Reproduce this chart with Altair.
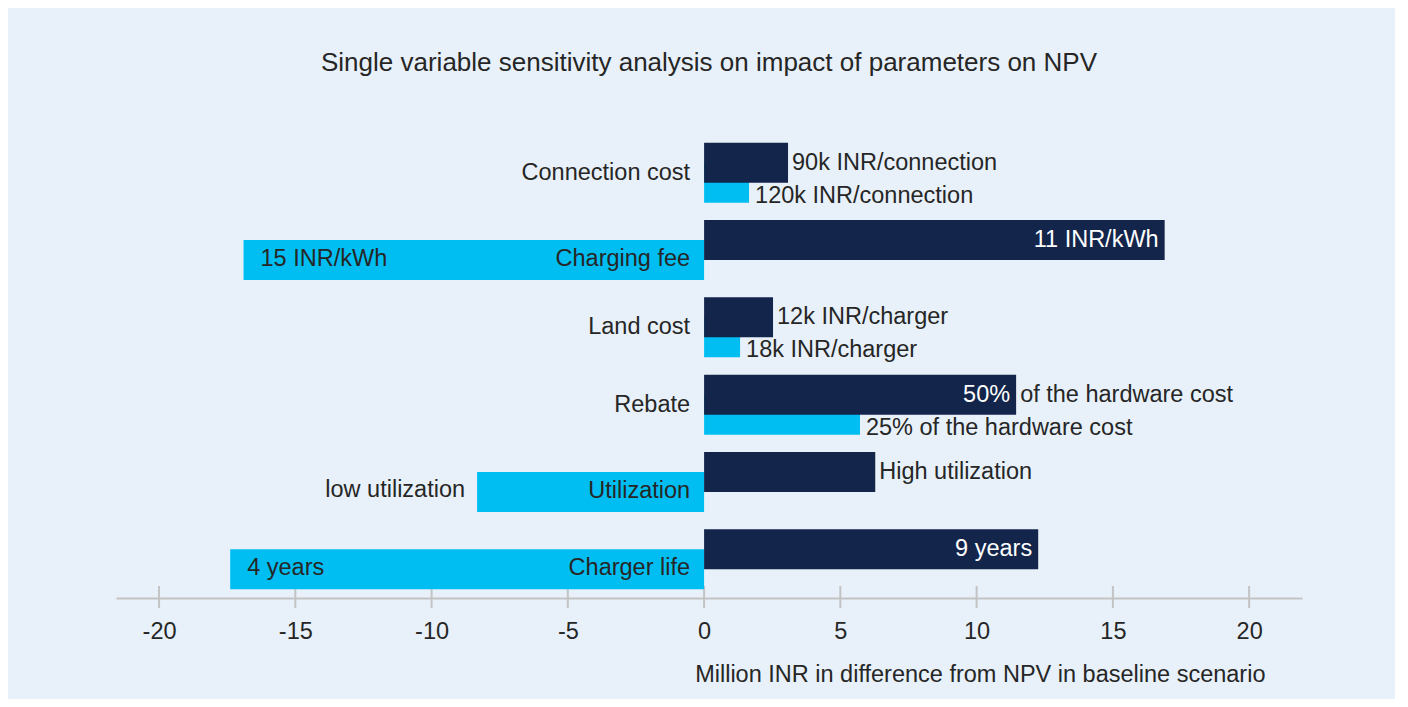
import altair as alt
import pandas as pd

categories = ["Connection cost", "Charging fee", "Land cost", "Rebate", "Utilization", "Charger life"]
high_values = [3.08, 16.9, 2.53, 11.45, 6.28, 12.26]
low_values = [1.65, -16.9, 1.32, 5.72, -8.33, -17.39]
high_inside = ["", "11 INR/kWh", "", "50%", "", "9 years"]
high_outside = ["90k INR/connection", "", "12k INR/charger", "of the hardware cost", "High utilization", ""]
low_inside = ["", "15 INR/kWh", "", "", "", "4 years"]
low_outside = ["120k INR/connection", "", "18k INR/charger", "25% of the hardware cost", "low utilization", ""]
tick_values = [-20, -15, -10, -5, 0, 5, 10, 15, 20]
x_domain = [-21.58, 21.94]

DARK = "#13254A"
LIGHT = "#00BEF2"
BG = "#E8F1F9"
TEXT = "#262626"
FONT = "Liberation Sans"
FS = 23.5

df = pd.DataFrame({
    "category": categories,
    "high": high_values,
    "low": low_values,
    "high_inside": high_inside,
    "high_outside": high_outside,
    "low_inside": low_inside,
    "low_outside": low_outside,
})
ticks_df = pd.DataFrame({"tick": tick_values})

xscale = alt.Scale(domain=x_domain, nice=False, zero=False)
yscale = alt.Scale(domain=categories, paddingInner=0, paddingOuter=0)
ypos = alt.Y("category:N", scale=yscale, axis=None, sort=categories)

xaxis = alt.Axis(
    values=tick_values, grid=False, ticks=False, domainColor="#C3C3C3", domainWidth=2,
    labelFontSize=FS, labelColor=TEXT, labelFont=FONT, labelPadding=21,
    labelExpr="toString(datum.value)",
    title="Million INR in difference from NPV in baseline scenario",
    titleFontSize=FS, titleFont=FONT, titleColor=TEXT, titleFontWeight="normal",
    titleX=1149, titleY=76, titleAlign="right", titleBaseline="middle", titleAngle=0,
)

tick_rules = alt.Chart(ticks_df).mark_rule(color="#C3C3C3", strokeWidth=2).encode(
    x=alt.X("tick:Q", scale=xscale, axis=xaxis),
    y=alt.value(452), y2=alt.value(474),
)

base = alt.Chart(df)

low_bars = base.mark_bar(height=40, yOffset=10, color=LIGHT).encode(
    x=alt.X("low:Q", scale=xscale), y=ypos)
high_bars = base.mark_bar(height=40, yOffset=-10, color=DARK).encode(
    x=alt.X("high:Q", scale=xscale), y=ypos)

def txt(field, xfield, flt, align, dx, yoff, color=TEXT):
    return base.transform_filter(flt).mark_text(
        align=align, baseline="middle", dx=dx, yOffset=yoff, fontSize=FS, font=FONT, color=color
    ).encode(x=alt.X(f"{xfield}:Q", scale=xscale), y=ypos, text=f"{field}:N")

cat_pos = base.transform_filter("datum.low >= 0").mark_text(
    align="right", baseline="middle", dx=-14, fontSize=FS, font=FONT, color=TEXT
).encode(x=alt.datum(0), y=ypos, text="category:N")
cat_neg = base.transform_filter("datum.low < 0").mark_text(
    align="right", baseline="middle", dx=-14, yOffset=9, fontSize=FS, font=FONT, color=TEXT
).encode(x=alt.datum(0), y=ypos, text="category:N")

layers = [
    tick_rules, low_bars, high_bars,
    cat_pos, cat_neg,
    txt("high_outside", "high", "datum.high_outside != ''", "left", 4, -10),
    txt("high_inside", "high", "datum.high_inside != ''", "right", -6, -10, "white"),
    txt("low_outside", "low", "datum.low_outside != '' && datum.low > 0", "left", 6, 23),
    txt("low_outside", "low", "datum.low_outside != '' && datum.low < 0", "right", -12, 8),
    txt("low_inside", "low", "datum.low_inside != ''", "left", 17, 9),
]

chart = alt.layer(*layers).properties(
    width=1186, height=464,
    autosize=alt.AutoSizeParams(type="none"),
    padding={"left": 108, "top": 126, "right": 93, "bottom": 101},
    title=alt.TitleParams(
        "Single variable sensitivity analysis on impact of parameters on NPV",
        fontSize=26, font=FONT, color=TEXT, fontWeight="normal", anchor="middle", offset=58,
    ),
).configure(background=BG).configure_view(stroke=None)

chart.save("out.html", embed_options={"renderer": "svg", "actions": False})
